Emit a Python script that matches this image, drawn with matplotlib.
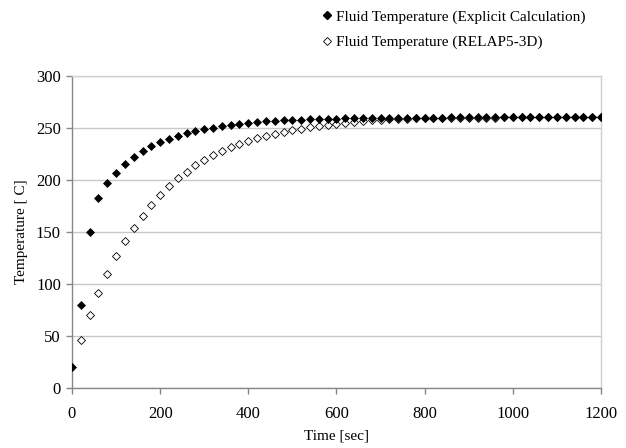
import matplotlib
matplotlib.use("Agg")
import matplotlib.pyplot as plt
from matplotlib.lines import Line2D

plt.rcParams['font.family'] = ['Liberation Serif', 'DejaVu Serif']

time_explicit = list(range(0, 1201, 20))
temp_explicit = [20, 80, 150, 183, 197, 207, 215.5, 222, 228, 232.5, 236, 239, 242, 244.8, 246.8,
                 248.7, 250, 251.3, 252.6, 253.7, 254.6, 255.3, 256, 256.5, 257, 257.4, 257.8,
                 258.1, 258.4, 258.6, 258.8, 259, 259.1, 259.2, 259.3, 259.4, 259.5, 259.5, 259.6,
                 259.6, 259.7, 259.7, 259.7, 259.8, 259.8, 259.8, 259.8, 259.9, 259.9, 259.9,
                 259.9, 259.9, 260, 260, 260, 260, 260, 260, 260, 260, 260]

time_relap = list(range(20, 1201, 20))
temp_relap = [46, 70, 91, 110, 126.5, 141, 154.2, 165.7, 176.3, 185.3, 193.9, 201.3, 207.7, 213.8,
              219.2, 223.7, 227.9, 231.4, 234.6, 237.5, 240, 242, 244.2, 245.8, 247.4, 248.7,
              250.2, 251.5, 252.8, 253.9, 254.9, 255.7, 256.4, 257, 257.6, 258, 258.4, 258.7,
              258.9, 259.1, 259.2, 259.3, 259.4, 259.5, 259.6, 259.6, 259.7, 259.7, 259.8,
              259.8, 259.8, 259.9, 259.9, 259.9, 259.9, 260, 260, 260, 260, 260]

label_explicit = "Fluid Temperature (Explicit Calculation)"
label_relap = "Fluid Temperature (RELAP5-3D)"
x_ticks = [0, 200, 400, 600, 800, 1000, 1200]
y_ticks = [0, 50, 100, 150, 200, 250, 300]

fig = plt.figure(figsize=(6.26, 4.48), dpi=100)
ax = fig.add_axes([0.115, 0.1333, 0.845, 0.698])

ax.plot(time_relap, temp_relap, linestyle='none', marker='D', markersize=3.8,
        markerfacecolor='white', markeredgecolor='black', markeredgewidth=0.6, zorder=3)
ax.plot(time_explicit, temp_explicit, linestyle='none', marker='D', markersize=4.0,
        markerfacecolor='black', markeredgecolor='black', markeredgewidth=0.5, zorder=4)

ax.set_xlim(0, 1200)
ax.set_ylim(0, 300)
ax.set_xticks(x_ticks)
ax.set_yticks(y_ticks)
ax.yaxis.grid(True, color='#c8c8c8', linewidth=1.0)
ax.set_axisbelow(True)

for s in ['left', 'bottom']:
    ax.spines[s].set_color('#868686')
    ax.spines[s].set_linewidth(1.0)
ax.spines['top'].set_color('#d0d0d0')
ax.spines['right'].set_color('#d0d0d0')
ax.spines['top'].set_linewidth(1.0)
ax.spines['right'].set_linewidth(1.0)

ax.tick_params(axis='both', direction='out', length=4, width=1.0, color='#868686',
               labelsize=12, labelcolor='black')
ax.tick_params(axis='x', pad=9)
ax.tick_params(axis='y', pad=4)

ax.set_xlabel("Time [sec]", fontsize=11, labelpad=5)
ax.set_ylabel("Temperature [ C]", fontsize=11, labelpad=6)

handles = [
    Line2D([], [], linestyle='none', marker='D', markersize=3.6, markerfacecolor='black',
           markeredgecolor='black', label=label_explicit),
    Line2D([], [], linestyle='none', marker='D', markersize=3.6, markerfacecolor='white',
           markeredgecolor='black', markeredgewidth=0.6, label=label_relap),
]
fig.legend(handles=handles, loc='upper left', bbox_to_anchor=(0.508, 0.988), frameon=False,
           fontsize=11, handlelength=0.6, handletextpad=0.3, labelspacing=0.75,
           borderaxespad=0.0, borderpad=0.3)

fig.savefig("out.png", dpi=100)
